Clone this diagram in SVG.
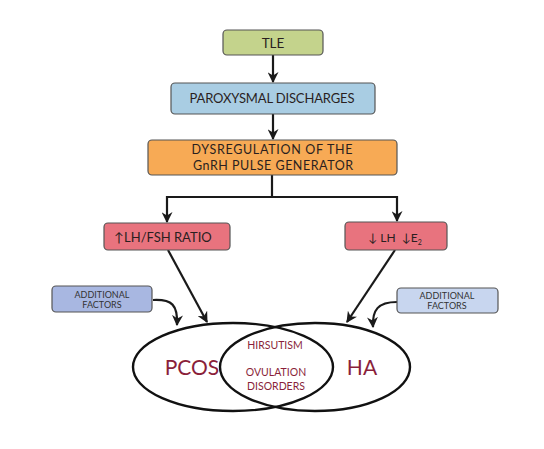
<svg xmlns="http://www.w3.org/2000/svg" width="544" height="449" viewBox="0 0 544 449">
<defs>
<marker id="ah" viewBox="0 0 10 10" refX="9" refY="5" markerWidth="5" markerHeight="5" orient="auto" markerUnits="strokeWidth">
<path d="M0,0 L10,5 L0,10 L3,5 Z" fill="#1a1a1a"/>
</marker>
<style>
.box{stroke:#555;stroke-width:1.2}
.t{font-family:Lato,"Open Sans","DejaVu Sans",sans-serif;fill:#2a1f1f;text-anchor:middle}
.c{fill:none;stroke:#1a1a1a;stroke-width:2.2}
.e{fill:none;stroke:#111;stroke-width:2.4}
.r{font-family:Lato,"Open Sans","DejaVu Sans",sans-serif;fill:#8a1f3a;text-anchor:middle}
.s{font-size:9px;fill:#333}
</style>
</defs>
<rect width="544" height="449" fill="#fff"/>
<g id="connectors">
<path class="c" d="M273,55 V82" marker-end="url(#ah)"/>
<path class="c" d="M273,114 V139" marker-end="url(#ah)"/>
<path class="c" d="M272,175 V197 M167,197 H397"/>
<path class="c" d="M167,196 V222" marker-end="url(#ah)"/>
<path class="c" d="M397,196 V221" marker-end="url(#ah)"/>
<path class="c" d="M168,250 L207,322" marker-end="url(#ah)"/>
<path class="c" d="M395,250 L347,322" marker-end="url(#ah)"/>
<path class="c" d="M153,300 C172,299 178,305 177,325" marker-end="url(#ah)"/>
<path class="c" d="M397,302 C378,302 372,310 373,327" marker-end="url(#ah)"/>
</g>
<g id="tle">
<rect class="box" x="223" y="30" width="100" height="25" rx="4" fill="#c4d38c"/>
<text class="t" x="273" y="48" font-size="13.5">TLE</text>
</g>
<g id="paroxysmal">
<rect class="box" x="171" y="83" width="204" height="31" rx="4" fill="#a9cde3"/>
<text class="t" x="272" y="103" font-size="13" textLength="165">PAROXYSMAL DISCHARGES</text>
</g>
<g id="dysregulation">
<rect class="box" x="148" y="140" width="249" height="35" rx="4" fill="#f7aa55"/>
<text class="t" x="272" y="154" font-size="12.5" textLength="161">DYSREGULATION OF THE</text>
<text class="t" x="273" y="170" font-size="12.5" textLength="160">GnRH PULSE GENERATOR</text>
</g>
<g id="lhfsh">
<rect class="box" x="104" y="223" width="126" height="27" rx="4" fill="#e8737e"/>
<text class="t" x="163" y="242" font-size="13">↑LH/FSH RATIO</text>
</g>
<g id="lhe2">
<rect class="box" x="345" y="222" width="102" height="28" rx="4" fill="#e8737e"/>
<text class="t" x="395" y="242" font-size="12" xml:space="preserve">↓ LH  ↓E<tspan font-size="7" dy="3">2</tspan></text>
</g>
<g id="add-left">
<rect class="box" x="52" y="286" width="100" height="26" rx="4" fill="#a8b7e1"/>
<text class="t s" x="102" y="298">ADDITIONAL</text>
<text class="t s" x="102" y="308">FACTORS</text>
</g>
<g id="add-right">
<rect class="box" x="397" y="288" width="101" height="25" rx="4" fill="#c8d6ef"/>
<text class="t s" x="447" y="299">ADDITIONAL</text>
<text class="t s" x="447" y="309">FACTORS</text>
</g>
<g id="pcos">
<ellipse class="e" cx="233" cy="367" rx="100" ry="44"/>
<text class="r" x="192" y="375" font-size="21">PCOS</text>
</g>
<g id="ha">
<ellipse class="e" cx="315" cy="367" rx="95" ry="44"/>
<text class="r" x="362" y="375" font-size="21">HA</text>
</g>
<g id="overlap">
<text class="r" x="275" y="349" font-size="10.5">HIRSUTISM</text>
<text class="r" x="276" y="376" font-size="10.5">OVULATION</text>
<text class="r" x="276" y="390" font-size="10.5">DISORDERS</text>
</g>
</svg>
